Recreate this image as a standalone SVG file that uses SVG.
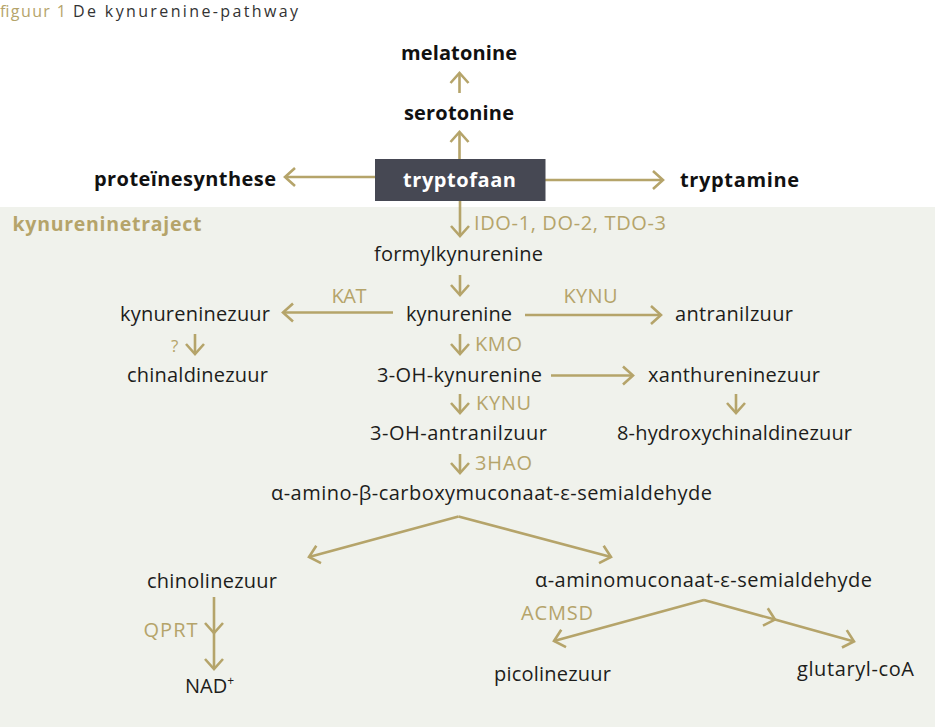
<svg xmlns="http://www.w3.org/2000/svg" width="935" height="727" viewBox="0 0 935 727">
<defs>
<style>
.t{font-family:"Open Sans","Liberation Sans",sans-serif;font-size:20px;fill:#1d1d1b}
.b{font-family:"Open Sans","Liberation Sans",sans-serif;font-size:20px;font-weight:700;fill:#111}
.g{font-family:"Open Sans","Liberation Sans",sans-serif;font-size:20px;fill:#b5a46a}
.ttl{font-family:"Open Sans","Liberation Sans",sans-serif;font-size:16px}
.c{fill:none;stroke:#b5a46a;stroke-width:2.6}
</style>
<marker id="ah" markerUnits="userSpaceOnUse" markerWidth="16" markerHeight="24" viewBox="-13 -12 16 24" refX="0" refY="0" orient="auto">
<path d="M-10,-9 L0,0 L-10,9" fill="none" stroke="#b5a46a" stroke-width="2.6"/>
</marker>
</defs>
<rect x="0" y="0" width="935" height="727" fill="#ffffff"/>
<rect id="panel" x="0" y="207" width="935" height="520" fill="#f0f2ec"/>

<g id="title">
<text class="ttl" x="0" y="17" fill="#b5a46a" textLength="66" lengthAdjust="spacing">figuur 1</text>
<text class="ttl" x="73" y="17" fill="#333333" textLength="225" lengthAdjust="spacing">De kynurenine-pathway</text>
</g>

<g id="connectors">
<path class="c" d="M459.5,159 L459.5,132" marker-end="url(#ah)"/>
<path class="c" d="M459.5,93 L459.5,73" marker-end="url(#ah)"/>
<path class="c" d="M375,177 L285,177" marker-end="url(#ah)"/>
<path class="c" d="M545,180 L663,180" marker-end="url(#ah)"/>
<path class="c" d="M460,201 L460,236" marker-end="url(#ah)"/>
<path class="c" d="M460,275 L460,295" marker-end="url(#ah)"/>
<path class="c" d="M393,312.5 L283,312.5" marker-end="url(#ah)"/>
<path class="c" d="M525,315 L661,315" marker-end="url(#ah)"/>
<path class="c" d="M460,334 L460,354" marker-end="url(#ah)"/>
<path class="c" d="M195,334 L195,354" marker-end="url(#ah)"/>
<path class="c" d="M551,375.5 L633,375.5" marker-end="url(#ah)"/>
<path class="c" d="M460,394 L460,413" marker-end="url(#ah)"/>
<path class="c" d="M736,394 L736,413" marker-end="url(#ah)"/>
<path class="c" d="M460,454 L460,473" marker-end="url(#ah)"/>
<path class="c" d="M458.5,516.5 L309,557" marker-end="url(#ah)"/>
<path class="c" d="M458.5,516.5 L611,557" marker-end="url(#ah)"/>
<path class="c" d="M214,597 L214,633 L214,669" marker-mid="url(#ah)" marker-end="url(#ah)"/>
<path class="c" d="M704,600 L554,641" marker-end="url(#ah)"/>
<path class="c" d="M704,600 L775,619.6 L854,641.5" marker-mid="url(#ah)" marker-end="url(#ah)"/>
</g>

<g id="melatonine"><text class="b" x="401" y="60" textLength="116" lengthAdjust="spacing">melatonine</text></g>
<g id="serotonine"><text class="b" x="404" y="119.5" textLength="110" lengthAdjust="spacing">serotonine</text></g>
<g id="tryptofaan">
<rect x="375" y="159" width="170.5" height="42" fill="#464853"/>
<text class="b" x="403" y="186.5" style="fill:#ffffff" textLength="113" lengthAdjust="spacing">tryptofaan</text>
</g>
<g id="proteinesynthese"><text class="b" x="94" y="186" textLength="182" lengthAdjust="spacing">proteïnesynthese</text></g>
<g id="tryptamine"><text class="b" x="680" y="186.5" textLength="119" lengthAdjust="spacing">tryptamine</text></g>

<g id="kynureninetraject"><text class="b" x="12.5" y="230.5" style="fill:#b5a46a;font-size:19.5px" textLength="189" lengthAdjust="spacing">kynureninetraject</text></g>
<g id="label-ido"><text class="g" x="474" y="230" textLength="192" lengthAdjust="spacing">IDO-1, DO-2, TDO-3</text></g>

<g id="formylkynurenine"><text class="t" x="374" y="260.5" textLength="169" lengthAdjust="spacing">formylkynurenine</text></g>

<g id="kynurenine"><text class="t" x="406" y="320.5" textLength="106" lengthAdjust="spacing">kynurenine</text></g>
<g id="kynureninezuur"><text class="t" x="120" y="320.5" textLength="150" lengthAdjust="spacing">kynureninezuur</text></g>
<g id="antranilzuur"><text class="t" x="675" y="320.5" textLength="118" lengthAdjust="spacing">antranilzuur</text></g>
<g id="label-kat"><text class="g" x="331.5" y="303" textLength="35" lengthAdjust="spacing">KAT</text></g>
<g id="label-kynu1"><text class="g" x="563.5" y="303" textLength="54" lengthAdjust="spacing">KYNU</text></g>
<g id="label-kmo"><text class="g" x="475" y="350.5" textLength="47" lengthAdjust="spacing">KMO</text></g>
<g id="label-q"><text class="g" x="171" y="351.5" style="font-size:17px">?</text></g>

<g id="chinaldinezuur"><text class="t" x="127" y="381.5" textLength="141" lengthAdjust="spacing">chinaldinezuur</text></g>
<g id="oh-kynurenine"><text class="t" x="377" y="381.5" textLength="165" lengthAdjust="spacing">3-OH-kynurenine</text></g>
<g id="xanthureninezuur"><text class="t" x="648" y="381.5" textLength="172" lengthAdjust="spacing">xanthureninezuur</text></g>
<g id="label-kynu2"><text class="g" x="476" y="410" textLength="55" lengthAdjust="spacing">KYNU</text></g>

<g id="oh-antranilzuur"><text class="t" x="370" y="440" textLength="177" lengthAdjust="spacing">3-OH-antranilzuur</text></g>
<g id="hydroxychinaldinezuur"><text class="t" x="617" y="440" textLength="235" lengthAdjust="spacing">8-hydroxychinaldinezuur</text></g>
<g id="label-3hao"><text class="g" x="475" y="469.5" textLength="57" lengthAdjust="spacing">3HAO</text></g>

<g id="acms"><text class="t" x="271" y="500" textLength="441" lengthAdjust="spacing">α-amino-β-carboxymuconaat-ε-semialdehyde</text></g>

<g id="chinolinezuur"><text class="t" x="147" y="587.5" textLength="130" lengthAdjust="spacing">chinolinezuur</text></g>
<g id="amsa"><text class="t" x="535" y="587" textLength="337" lengthAdjust="spacing">α-aminomuconaat-ε-semialdehyde</text></g>
<g id="label-qprt"><text class="g" x="143.5" y="637" textLength="54" lengthAdjust="spacing">QPRT</text></g>
<g id="label-acmsd"><text class="g" x="521" y="619.5" textLength="72" lengthAdjust="spacing">ACMSD</text></g>
<g id="nad"><text class="t" x="185" y="693">NAD<tspan font-size="12" dy="-8">+</tspan></text></g>
<g id="picolinezuur"><text class="t" x="494" y="680.5" textLength="117" lengthAdjust="spacing">picolinezuur</text></g>
<g id="glutaryl-coa"><text class="t" x="797" y="675.5" textLength="117" lengthAdjust="spacing">glutaryl-coA</text></g>
</svg>
